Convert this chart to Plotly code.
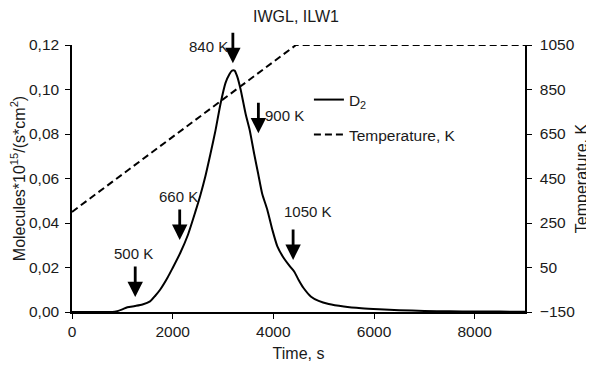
import plotly.graph_objects as go

# Time axis (s) and D2 desorption flux (1e15 molecules/(s*cm^2))
time_d2 = [0, 500, 800, 900, 1000, 1100, 1250, 1400, 1550, 1650, 1750, 1900, 2000, 2150,
           2300, 2450, 2550, 2650, 2750, 2850, 2950, 3050, 3130, 3180, 3230, 3280, 3350,
           3450, 3530, 3620, 3700, 3780, 3880, 3980, 4080, 4200, 4330, 4420, 4500, 4600,
           4750, 4900, 5100, 5400, 5750, 6100, 6500, 7000, 7500, 8000, 8500, 9000]
d2_flux = [0, 0, 0, 0.0004, 0.0012, 0.0021, 0.0027, 0.0034, 0.0048, 0.0072, 0.0100, 0.0155,
           0.0198, 0.0265, 0.0345, 0.0450, 0.0525, 0.0610, 0.0710, 0.0815, 0.0935, 0.1030,
           0.1070, 0.1085, 0.1085, 0.1060, 0.1000, 0.0890, 0.0818, 0.0710, 0.0620, 0.0530,
           0.0460, 0.0370, 0.0295, 0.0245, 0.0205, 0.0180, 0.0145, 0.0108, 0.0069, 0.0050,
           0.0036, 0.0025, 0.0017, 0.0012, 0.0008, 0.0005, 0.0003, 0.0002, 0.0002, 0.0001]

# Temperature ramp
time_temp = [0, 4450, 9000]
temperature = [300, 1050, 1050]

# Arrow annotations: label, arrow tip (time, flux), label position (time, flux)
arrow_labels = ["500 K", "660 K", "840 K", "900 K", "1050 K"]
arrow_tip_t = [1256, 2140, 3196, 3703, 4393]
arrow_tip_v = [0.0067, 0.0324, 0.1118, 0.0803, 0.0234]
label_t = [1223, 2124, 2702, 4227, 4696]
label_v = [0.0261, 0.0518, 0.1192, 0.0885, 0.0451]

x_ticks = [0, 2000, 4000, 6000, 8000]
y_ticks = [0, 0.02, 0.04, 0.06, 0.08, 0.10, 0.12]
t_ticks = [-150, 50, 250, 450, 650, 850, 1050]

FONT = "Liberation Sans, Arial, sans-serif"
TXT = "#1a1a1a"
FS = 15
TICK_FS = 15.5

# the page adds an 8 px body margin, so the figure is 8 px smaller than the window
W, H = 586, 357

fig = go.Figure()
fig.add_trace(go.Scatter(x=time_d2, y=d2_flux, mode="lines", name="D<sub>2</sub>",
                         line=dict(color="black", width=2, shape="spline", smoothing=0.6),
                         legend="legend"))
fig.add_trace(go.Scatter(x=time_temp, y=temperature, mode="lines", name="Temperature, K",
                         line=dict(color="black", width=2, dash="7px,4px"),
                         yaxis="y2", legend="legend2"))

annotations = []
for lab, tx, ty, lx, ly in zip(arrow_labels, arrow_tip_t, arrow_tip_v, label_t, label_v):
    annotations.append(dict(x=tx, y=ty, xref="x", yref="y", text="", showarrow=True,
                            ax=0, ay=-32, arrowhead=2, arrowsize=1.1, arrowwidth=2.8,
                            arrowcolor="black"))
    annotations.append(dict(x=lx, y=ly, xref="x", yref="y", text=lab, showarrow=False,
                            font=dict(size=FS, color=TXT, family=FONT)))

axis_common = dict(showgrid=False, zeroline=False, showline=True, linecolor="black",
                   linewidth=1.5, ticks="outside", ticklen=5, tickcolor="black",
                   tickwidth=1.2, automargin=False, tickfont=dict(size=TICK_FS))

fig.update_layout(
    width=W, height=H,
    margin=dict(l=64, r=69, t=37, b=53, autoexpand=False),
    paper_bgcolor="white", plot_bgcolor="white",
    separators=",.",
    font=dict(family=FONT, size=FS, color=TXT),
    title=dict(text="IWGL, ILW1", x=288 / W, xanchor="center", xref="container",
               y=1 - 8 / H, yanchor="middle", yref="container",
               font=dict(size=16, color=TXT, family=FONT)),
    xaxis=dict(range=[0, 9000], tickvals=x_ticks,
               title=dict(text="Time, s", standoff=8, font=dict(size=16)), **axis_common),
    yaxis=dict(range=[0, 0.12], tickvals=y_ticks, tickformat=".2f", ticklabelstandoff=3,
               title=dict(text="Molecules*10<sup>15</sup>/(s*cm<sup>2</sup>)", standoff=2,
                          font=dict(size=16)), **axis_common),
    yaxis2=dict(range=[-150, 1050], tickvals=t_ticks, overlaying="y", side="right",
                ticklabelstandoff=5,
                title=dict(text="Temperature, K", standoff=2, font=dict(size=16)),
                **axis_common),
    legend=dict(x=0.523, y=0.794, xanchor="left", yanchor="middle", bgcolor="rgba(0,0,0,0)",
                font=dict(size=15.5, color=TXT, family=FONT), itemwidth=30),
    legend2=dict(x=0.523, y=0.663, xanchor="left", yanchor="middle", bgcolor="rgba(0,0,0,0)",
                 font=dict(size=15.5, color=TXT, family=FONT), itemwidth=30),
    annotations=annotations,
    showlegend=True,
)

fig.write_html("out.html")
